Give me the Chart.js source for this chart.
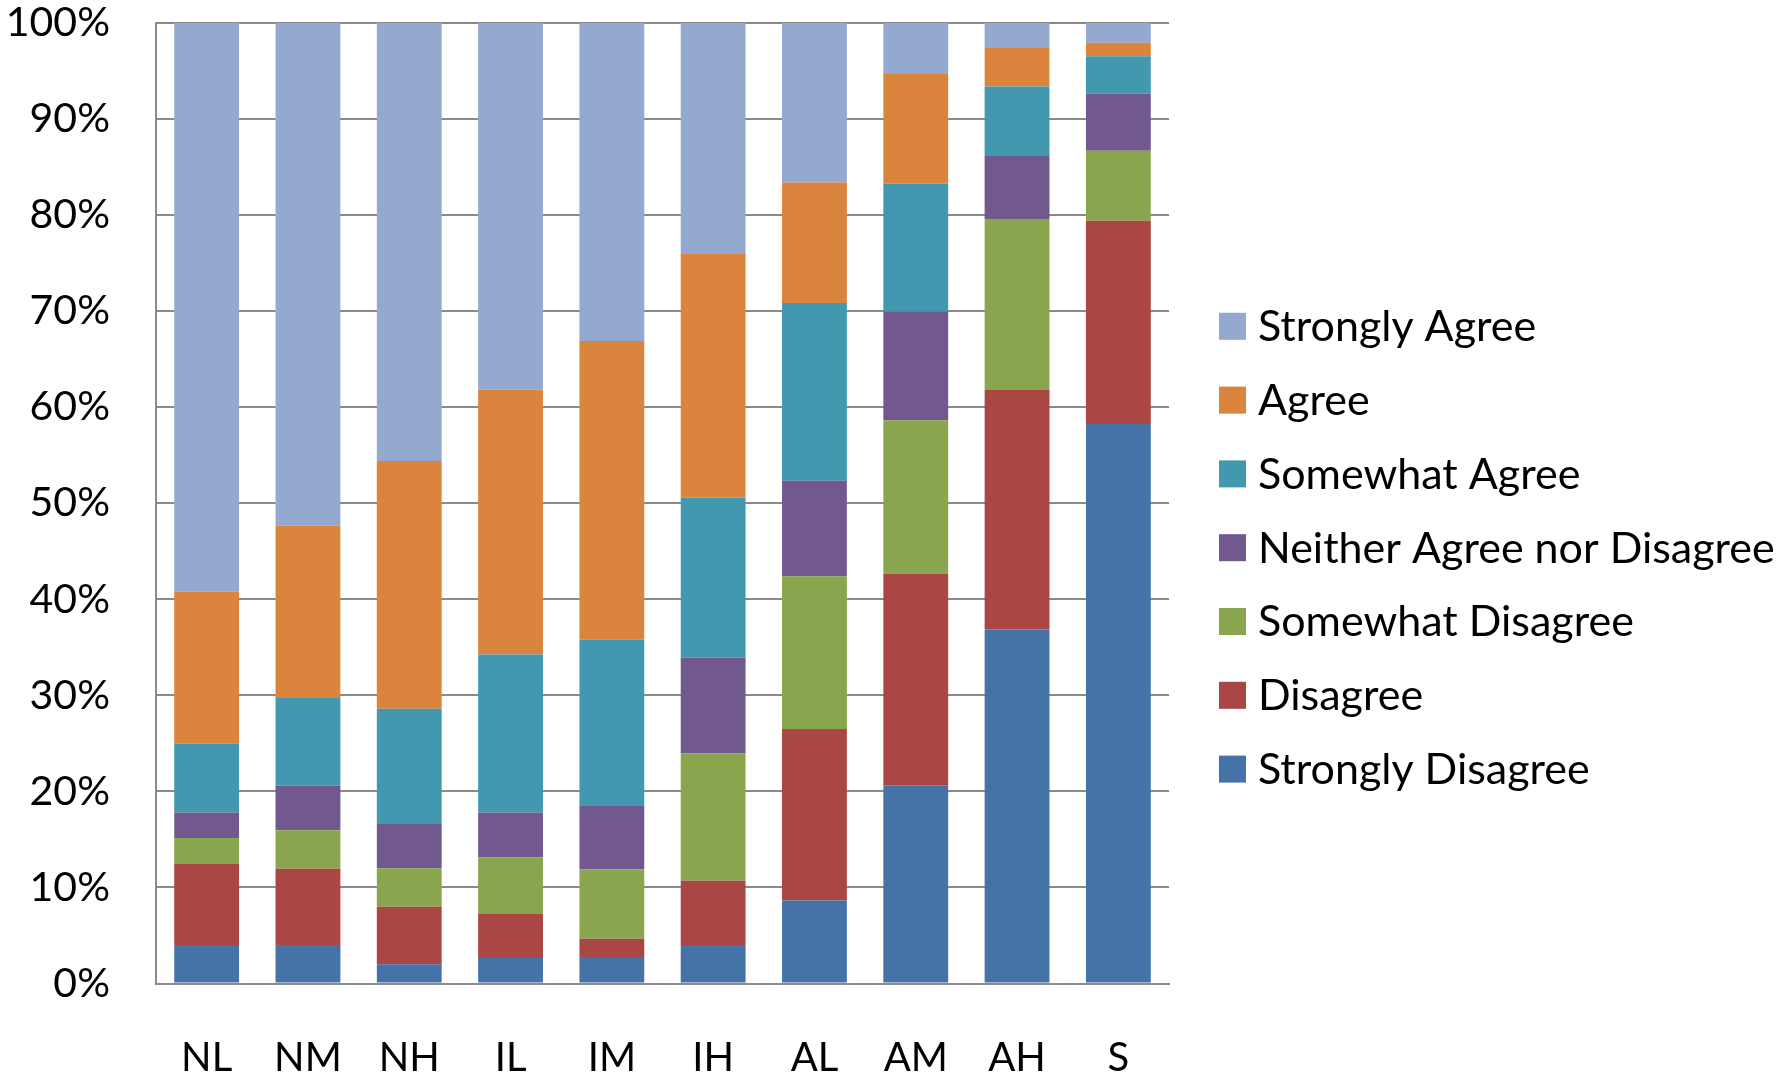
<!DOCTYPE html>
<html>
<head>
<meta charset="utf-8">
<script src="https://cdn.jsdelivr.net/npm/chart.js@4/dist/chart.umd.min.js"></script>
<style>
  html, body { margin: 0; padding: 0; background: #ffffff; }
  #wrap { width: 1787px; height: 1081px; }
</style>
</head>
<body>
<div id="wrap"><canvas id="chart" width="1787" height="1081"></canvas></div>
<script>
// Response groups along the x axis
const categories = ['NL', 'NM', 'NH', 'IL', 'IM', 'IH', 'AL', 'AM', 'AH', 'S'];

// Percentage of responses per group, bottom of the stack first
const stronglyDisagree = [4.0, 4.0, 2.0, 2.65, 2.65, 4.0, 8.65, 20.65, 36.85, 58.25];
const disagree         = [8.5, 7.95, 6.0, 4.65, 2.0, 6.7, 17.85, 22.0, 24.95, 21.15];
const somewhatDisagree = [2.65, 4.0, 4.0, 5.85, 7.25, 13.25, 15.9, 16.0, 17.8, 7.3];
const neither          = [2.65, 4.65, 4.6, 4.65, 6.65, 10.0, 9.95, 11.3, 6.55, 5.95];
const somewhatAgree    = [7.2, 9.2, 12.0, 16.45, 17.25, 16.65, 18.5, 13.35, 7.25, 3.9];
const agree            = [15.8, 17.85, 25.8, 27.6, 31.1, 25.35, 12.55, 11.4, 4.0, 1.4];
const stronglyAgree    = [59.2, 52.35, 45.6, 38.15, 33.1, 24.05, 16.6, 5.3, 2.6, 2.05];

// Value axis ticks (percent)
const yTicks = [0, 10, 20, 30, 40, 50, 60, 70, 80, 90, 100];

const series = [
  { label: 'Strongly Disagree', data: stronglyDisagree, color: '#4572A7' },
  { label: 'Disagree', data: disagree, color: '#AA4643' },
  { label: 'Somewhat Disagree', data: somewhatDisagree, color: '#89A54E' },
  { label: 'Neither Agree nor Disagree', data: neither, color: '#71588F' },
  { label: 'Somewhat Agree', data: somewhatAgree, color: '#4198AF' },
  { label: 'Agree', data: agree, color: '#DB843D' },
  { label: 'Strongly Agree', data: stronglyAgree, color: '#93A9CF' }
];

const FONT = 'Lato';
const GRID = '#8a8a8a';

// Legend on the right, top entry = top of the stack
const sideLegend = {
  id: 'sideLegend',
  afterDraw(chart) {
    const ctx = chart.ctx;
    const ds = chart.data.datasets.slice().reverse();
    const boxX = 1219, box = 27, textX = 1258, firstY = 326.3, step = 73.8;
    ctx.save();
    ctx.font = '43px ' + FONT;
    ctx.textBaseline = 'middle';
    ctx.textAlign = 'left';
    ds.forEach((d, i) => {
      const cy = firstY + i * step;
      ctx.fillStyle = d.backgroundColor;
      ctx.fillRect(boxX, cy - box / 2, box, box);
      ctx.fillStyle = '#000000';
      ctx.fillText(d.label, textX, cy + 1);
    });
    ctx.restore();
  }
};

// Keep the plot area fixed: no extra room reserved for overhanging tick labels
function noLabelPadding(scale) {
  scale.paddingTop = 0;
  scale.paddingBottom = 0;
  scale.paddingLeft = 0;
  scale.paddingRight = 0;
}

new Chart(document.getElementById('chart'), {
  type: 'bar',
  data: {
    labels: categories,
    datasets: series.map(s => ({
      label: s.label,
      data: s.data,
      backgroundColor: s.color,
      borderWidth: 0,
      barPercentage: 0.64,
      categoryPercentage: 1.0
    }))
  },
  options: {
    responsive: false,
    animation: false,
    devicePixelRatio: 1,
    layout: { padding: { left: 0, top: 23, right: 618, bottom: 0 } },
    plugins: {
      legend: { display: false },
      tooltip: { enabled: false }
    },
    scales: {
      x: {
        stacked: true,
        grid: { display: false, drawTicks: false },
        border: { display: true, color: GRID, width: 2 },
        ticks: {
          color: '#000000',
          padding: 55,
          maxRotation: 0,
          autoSkip: false,
          font: { family: FONT, size: 40, lineHeight: 1.0 }
        },
        afterFit(scale) { scale.height = 97.5; noLabelPadding(scale); }
      },
      y: {
        stacked: true,
        min: 0,
        max: 100,
        afterBuildTicks(scale) { scale.ticks = yTicks.map(v => ({ value: v })); },
        grid: { color: GRID, lineWidth: 2, drawTicks: false },
        border: { display: true, color: GRID, width: 2 },
        ticks: {
          color: '#000000',
          padding: 46,
          font: { family: FONT, size: 41, lineHeight: 1.0 },
          callback: v => v + '%'
        },
        afterFit(scale) { scale.width = 156; noLabelPadding(scale); }
      }
    }
  },
  plugins: [sideLegend]
});
</script>
</body>
</html>
